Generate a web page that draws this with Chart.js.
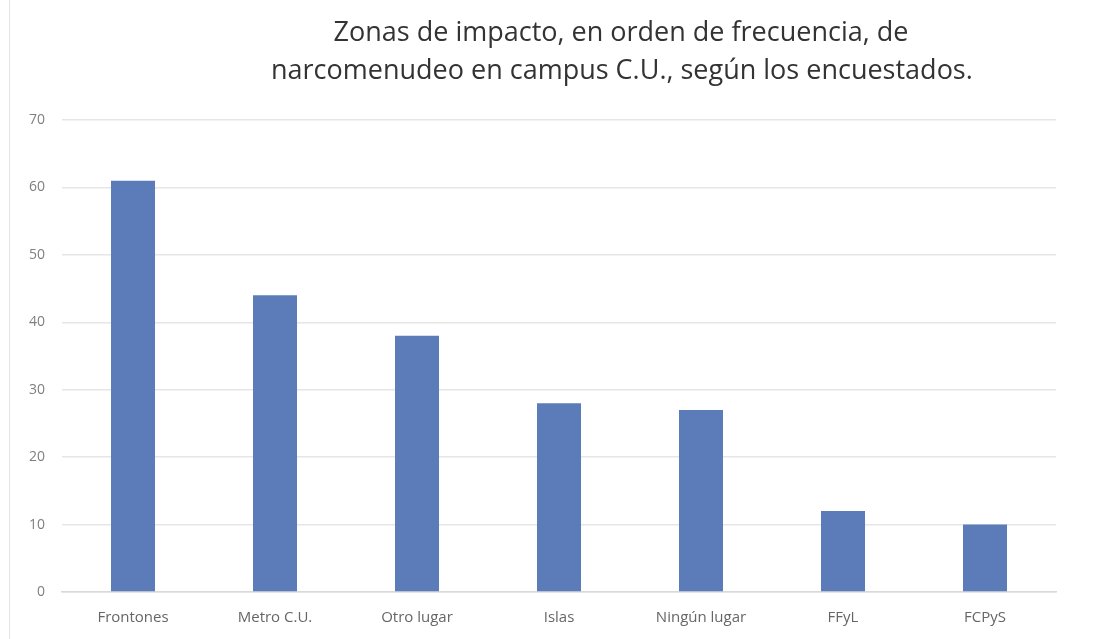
<!DOCTYPE html>
<html>
<head>
<meta charset="utf-8">
<script src="https://cdn.jsdelivr.net/npm/chart.js@4"></script>
<style>
  html, body { margin: 0; padding: 0; background: #fff; }
  #wrap { position: relative; width: 1115px; height: 639px; }
  #edge { position: absolute; left: 9px; top: 0; width: 1px; height: 639px; background: #e3e3e3; }
  #title {
    position: absolute; left: 271px; width: 700px; top: 12px;
    text-align: center; font-family: "Open Sans", sans-serif; font-size: 27px;
    line-height: 38px; color: #333; white-space: nowrap;
  }
</style>
</head>
<body>
<div id="wrap">
  <canvas id="bars" width="1115" height="639"></canvas>
  <div id="edge"></div>
  <div id="title">Zonas de impacto, en orden de frecuencia, de<br>narcomenudeo en campus C.U., según los encuestados.</div>
</div>
<script>
const zonas = ["Frontones", "Metro C.U.", "Otro lugar", "Islas", "Ningún lugar", "FFyL", "FCPyS"];
const respuestas = [61, 44, 38, 28, 27, 12, 10];
const yTicks = [0, 10, 20, 30, 40, 50, 60, 70];

let ctx = document.getElementById("bars").getContext("2d");
let chart = new Chart(ctx, {
  type: "bar",
  data: {
    labels: zonas,
    datasets: [
      {
        label: "Encuestados",
        data: respuestas,
        backgroundColor: "rgba(92, 124, 185, 1)",
        borderWidth: 0,
        barPercentage: 0.31,
        categoryPercentage: 1,
      },
    ],
  },
  options: {
    responsive: false,
    animation: false,
    layout: { padding: { top: 120, right: 59, bottom: 3, left: 12 } },
    plugins: {
      legend: { display: false },
      tooltip: { enabled: false },
    },
    scales: {
      x: {
        grid: { display: false },
        border: { color: "#d9d9d9", width: 1.5 },
        ticks: {
          color: "#666",
          font: { family: "Open Sans", size: 15 },
          padding: 9,
          maxRotation: 0,
        },
      },
      y: {
        min: 0,
        max: 70,
        afterBuildTicks: (axis) => {
          axis.ticks = yTicks.map((v) => ({ value: v }));
        },
        grid: { color: "#e6e6e6", lineWidth: 1.5, drawTicks: false },
        border: { display: false },
        ticks: {
          color: "#7f7f7f",
          font: { family: "Open Sans", size: 14 },
          padding: 17,
        },
      },
    },
  },
});
</script>
</body>
</html>
